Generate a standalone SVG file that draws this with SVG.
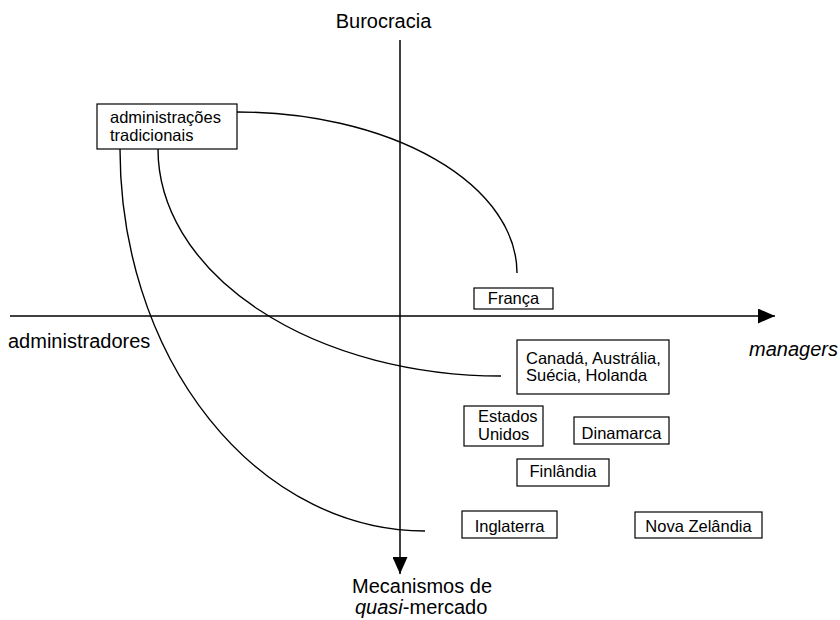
<svg xmlns="http://www.w3.org/2000/svg" width="840" height="620" viewBox="0 0 840 620">
<style>
text{font-family:"Liberation Sans",Arial,sans-serif;fill:#000}
.lbl{font-size:20px}
.bx{font-size:16.5px}
.node rect{fill:#fff;stroke:#000;stroke-width:1.2}
.axis{stroke:#000;stroke-width:1.5;fill:none}
.curve{stroke:#000;stroke-width:1.4;fill:none}
</style>
<defs>
<marker id="arr" markerWidth="17" markerHeight="15" refX="17" refY="7.5" orient="auto" markerUnits="userSpaceOnUse">
<path d="M0,0 L17,7.5 L0,15 Z" fill="#000"/>
</marker>
</defs>
<rect width="840" height="620" fill="#fff"/>
<g id="connectors">
<line class="axis" x1="400" y1="40" x2="400" y2="574" marker-end="url(#arr)"/>
<line class="axis" x1="10" y1="316" x2="775" y2="316" marker-end="url(#arr)"/>
<path class="curve" d="M237,112 A280,161 0 0 1 517,273"/>
<path class="curve" d="M158,149 A343,227 0 0 0 501,376"/>
<path class="curve" d="M120,149 A305,382 0 0 0 425,531"/>
</g>
<g id="label-burocracia"><text class="lbl" x="383.5" y="28" text-anchor="middle">Burocracia</text></g>
<g id="label-administradores"><text class="lbl" x="8" y="348">administradores</text></g>
<g id="label-managers"><text class="lbl" x="749" y="356" font-style="italic">managers</text></g>
<g id="label-mecanismos"><text class="lbl" x="422" y="593" text-anchor="middle">Mecanismos de</text><text class="lbl" x="355" y="614"><tspan font-style="italic">quasi</tspan>-mercado</text></g>
<g id="node-tradicionais" class="node"><rect x="97" y="104" width="140" height="45"/><text class="bx" x="110" y="123">administrações</text><text class="bx" x="110" y="140.5">tradicionais</text></g>
<g id="node-franca" class="node"><rect x="474" y="288" width="79" height="21"/><text class="bx" x="513.5" y="304" text-anchor="middle">França</text></g>
<g id="node-canada" class="node"><rect x="517" y="340" width="152" height="54"/><text class="bx" x="526" y="364">Canadá, Austrália,</text><text class="bx" x="526" y="381">Suécia, Holanda</text></g>
<g id="node-eua" class="node"><rect x="464" y="406" width="79" height="40"/><text class="bx" x="478" y="422">Estados</text><text class="bx" x="478" y="439.5">Unidos</text></g>
<g id="node-dinamarca" class="node"><rect x="574" y="417" width="95" height="27"/><text class="bx" x="621.5" y="439" text-anchor="middle">Dinamarca</text></g>
<g id="node-finlandia" class="node"><rect x="517" y="459" width="92" height="27"/><text class="bx" x="563" y="477" text-anchor="middle">Finlândia</text></g>
<g id="node-inglaterra" class="node"><rect x="462" y="511" width="95" height="27"/><text class="bx" x="509.5" y="532" text-anchor="middle">Inglaterra</text></g>
<g id="node-novazelandia" class="node"><rect x="635" y="512" width="127" height="26"/><text class="bx" x="698.5" y="532" text-anchor="middle">Nova Zelândia</text></g>
</svg>
